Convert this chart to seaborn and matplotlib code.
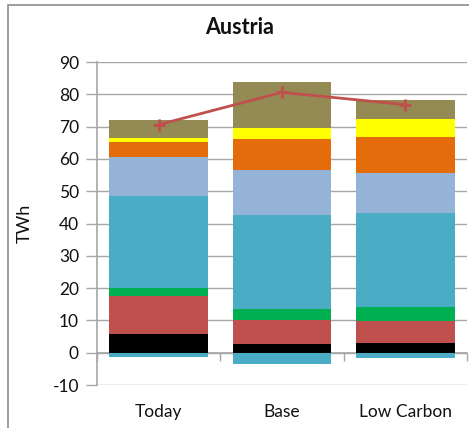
import matplotlib
matplotlib.use("Agg")
import matplotlib.pyplot as plt
from matplotlib.patches import Rectangle
import seaborn as sns
import numpy as np

# Scenarios on the x axis
categories = ["Today", "Base", "Low Carbon"]

# Stacked positive layers, bottom to top (TWh)
black_seg = [5.7, 2.8, 2.9]
red_seg = [11.7, 7.2, 6.9]
green_seg = [2.5, 3.4, 4.4]
teal_seg = [28.5, 29.3, 28.9]
lightblue_seg = [12.1, 13.8, 12.4]
orange_seg = [4.8, 9.8, 11.3]
yellow_seg = [1.2, 3.2, 5.6]
olive_seg = [5.4, 14.2, 5.7]

# Negative layer below zero (TWh)
teal_negative = [-1.3, -3.4, -1.5]

# Demand line (TWh)
demand = [70.6, 80.6, 76.8]

y_ticks = list(range(-10, 91, 10))

layers = [
    (black_seg, "#000000"),
    (red_seg, "#C0504D"),
    (green_seg, "#00B050"),
    (teal_seg, "#4BACC6"),
    (lightblue_seg, "#95B3D7"),
    (orange_seg, "#E46C0A"),
    (yellow_seg, "#FFFF00"),
    (olive_seg, "#948A54"),
]

sns.set_theme(style="white")
plt.rcParams["font.family"] = ["Lato", "DejaVu Sans"]

fig = plt.figure(figsize=(4.69, 4.28), dpi=100)
ax = fig.add_axes([97 / 469, 1 - 385 / 428, 370 / 469, (385 - 62) / 428])

grid_color = "#A6A6A6"
for v in y_ticks:
    ax.axhline(v, color=grid_color, lw=1.0, zorder=0)

bottom = np.zeros(len(categories))
for vals, col in layers:
    sns.barplot(x=categories, y=vals, bottom=bottom, color=col, width=0.8,
                saturation=1, ax=ax, zorder=2, linewidth=0)
    bottom = bottom + np.array(vals)

sns.barplot(x=categories, y=teal_negative, color="#4BACC6", width=0.8,
            saturation=1, ax=ax, zorder=2, linewidth=0)

sns.lineplot(x=categories, y=demand, sort=False, color="#C0504D", lw=2.0,
             marker="+", markersize=9, markeredgewidth=2.2,
             markeredgecolor="#C0504D", ax=ax, zorder=3)

ax.set_xlim(-0.5, 2.5)
ax.set_ylim(-10, 90)
ax.set_yticks(y_ticks)
ax.set_yticklabels([str(t) for t in y_ticks], fontsize=12.5, color="#111111")
ax.tick_params(axis="y", direction="out", length=8, width=1, color=grid_color,
               left=True, pad=5)
ax.tick_params(axis="x", length=0, pad=14, labelsize=12.5, labelcolor="#111111")
ax.set_xlabel("")
ax.set_ylabel("TWh", fontsize=13, labelpad=14, color="#111111")

for side in ["top", "right", "bottom"]:
    ax.spines[side].set_visible(False)
ax.spines["left"].set_color(grid_color)
ax.spines["left"].set_linewidth(1.2)

# Category axis running along zero with boundary ticks
zero_axis = ax.secondary_xaxis(0.1)
zero_axis.set_xticks([-0.5, 0.5, 1.5, 2.5])
zero_axis.set_xticklabels([])
zero_axis.tick_params(direction="out", length=6, width=1, color=grid_color)
zero_axis.spines["bottom"].set_color(grid_color)
zero_axis.spines["bottom"].set_linewidth(1.2)

fig.text(240 / 469, 1 - 27 / 428, "Austria", ha="center", va="center",
         fontsize=15.5, fontweight="bold", color="#111111")

# Chart frame
fig.patches.append(Rectangle((8 / 469, -0.05), 1.2, 1 - 5 / 428 + 0.05,
                             transform=fig.transFigure, fill=False,
                             edgecolor="#8C8C8C", lw=1.2, zorder=-1))

fig.savefig("out.png", dpi=100)
